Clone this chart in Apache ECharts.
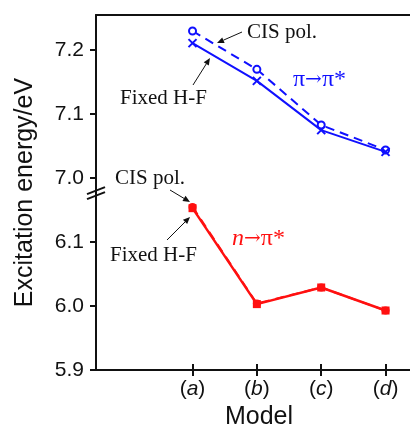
<!DOCTYPE html>
<html>
<head>
<meta charset="utf-8">
<script src="https://cdn.jsdelivr.net/npm/echarts@6/dist/echarts.min.js"></script>
<style>
  html, body { margin: 0; padding: 0; background: #fff; }
  #chart { width: 410px; height: 427px; }
</style>
</head>
<body>
<div id="chart"></div>
<script>
// Excitation energies (eV) for the four models
const models = ['a', 'b', 'c', 'd'];
const piCIS   = [7.230, 7.170, 7.083, 7.044];   // π→π*, CIS pol.
const piFixed = [7.211, 7.152, 7.075, 7.041];   // π→π*, Fixed H-F
const nCIS    = [6.155, 6.004, 6.029, 5.993];   // n→π*, CIS pol.
const nFixed  = [6.153, 6.003, 6.029, 5.993];   // n→π*, Fixed H-F
const yTicks  = [5.9, 6.0, 6.1, 7.0, 7.1, 7.2];

// Broken y axis: the 7.0+ band is drawn directly above the 6.1 band
const BREAK_SHIFT = 0.8;
const toAxis = v => (v > 6.5 ? v - BREAK_SHIFT : v);
const fromAxis = v => (v > 6.15 ? v + BREAK_SHIFT : v);

const BLUE = '#1010ff';
const RED = '#ff1010';
const INK = '#111';
const SANS = 'Liberation Sans, Arial, sans-serif';
const SERIF = 'Liberation Serif, Times New Roman, serif';
const ARROW_FONT = 'DejaVu Serif, serif';

const pts = vals => vals.map((v, i) => [i, toAxis(v)]);
const axisTickVals = yTicks.map(toAxis);

const X_MIN = -1.5, X_MAX = 3.38;

const chart = echarts.init(document.getElementById('chart'), null, { renderer: 'canvas' });

function arrow(x1, y1, x2, y2) {
  const dx = x2 - x1, dy = y2 - y1;
  const len = Math.sqrt(dx * dx + dy * dy);
  const ux = dx / len, uy = dy / len;
  const hl = 7, hw = 3;
  const bx = x2 - ux * hl, by = y2 - uy * hl;
  return [
    { type: 'line', shape: { x1, y1, x2: bx, y2: by }, style: { stroke: INK, lineWidth: 1 } },
    { type: 'polygon', shape: { points: [[x2, y2], [bx - uy * hw, by + ux * hw], [bx + uy * hw, by - ux * hw]] }, style: { fill: INK } }
  ];
}

function note(text, x, y) {
  return {
    type: 'text', x, y,
    style: { text, fill: INK, font: '21px ' + SERIF, textVerticalAlign: 'middle' }
  };
}

function transition(first, x, y, color) {
  return {
    type: 'text', x, y,
    style: {
      text: '{a|' + first + '}{b|→}{c|π*}', textVerticalAlign: 'middle',
      rich: {
        a: { fill: color, font: (first === 'n' ? 'italic ' : '') + '24px ' + SERIF },
        b: { fill: color, font: '20px ' + ARROW_FONT },
        c: { fill: color, font: '24px ' + SERIF }
      }
    }
  };
}

const xCommon = {
  type: 'value', min: X_MIN, max: X_MAX,
  splitLine: { show: false }
};

chart.setOption({
  animation: false,
  backgroundColor: '#fff',
  grid: { left: 96, right: 0, top: 15, bottom: 57, outerBoundsMode: 'none', containLabel: false },
  xAxis: [
    Object.assign({}, xCommon, {
      position: 'bottom',
      name: 'Model', nameLocation: 'middle', nameGap: 34,
      nameTextStyle: { fontFamily: SANS, fontSize: 25, color: INK, padding: [0, 0, 0, 12] },
      axisLine: { onZero: false, lineStyle: { color: INK, width: 2 } },
      axisTick: { show: true, length: 6, inside: false, customValues: [0, 1, 2, 3], lineStyle: { color: INK, width: 2 } },
      axisLabel: {
        customValues: [0, 1, 2, 3], margin: 9,
        formatter: v => '(' + '{i|' + models[Math.round(v)] + '})',
        fontFamily: SANS, fontSize: 21, color: INK,
        rich: { i: { fontFamily: SANS, fontSize: 21, fontStyle: 'italic', color: INK } }
      }
    }),
    Object.assign({}, xCommon, {
      position: 'bottom',
      axisLine: { show: false, onZero: false },
      axisTick: { show: true, length: 6, inside: true, customValues: [0, 1, 2, 3], lineStyle: { color: INK, width: 2 } },
      axisLabel: { show: false }
    }),
    Object.assign({}, xCommon, {
      position: 'top',
      axisLine: { onZero: false, lineStyle: { color: INK, width: 2 } },
      axisTick: { show: false },
      axisLabel: { show: false }
    })
  ],
  yAxis: {
    type: 'value', min: 5.9, max: 6.455,
    name: 'Excitation energy/eV', nameLocation: 'middle', nameGap: 58,
    nameTextStyle: { fontFamily: SANS, fontSize: 25, color: INK },
    splitLine: { show: false },
    axisLine: { show: true, onZero: false, lineStyle: { color: INK, width: 2 } },
    axisTick: { show: true, length: 6, customValues: axisTickVals, lineStyle: { color: INK, width: 2 } },
    axisLabel: {
      customValues: axisTickVals, margin: 12,
      formatter: v => fromAxis(v).toFixed(1),
      fontFamily: SANS, fontSize: 21, color: INK
    }
  },
  series: [
    {
      name: 'π→π* CIS pol.', type: 'line', data: pts(piCIS),
      lineStyle: { color: BLUE, width: 2, type: [9, 6] },
      symbol: 'emptyCircle', symbolSize: 7,
      itemStyle: { color: BLUE, borderColor: BLUE, borderWidth: 2 }, z: 3
    },
    {
      name: 'π→π* Fixed H-F', type: 'line', data: pts(piFixed),
      lineStyle: { color: BLUE, width: 2 },
      symbol: 'path://M0,0L10,10M10,0L0,10', symbolSize: 8,
      itemStyle: { color: 'none', borderColor: BLUE, borderWidth: 2 }, z: 4
    },
    {
      name: 'n→π* CIS pol.', type: 'line', data: pts(nCIS),
      lineStyle: { color: RED, width: 2, type: [9, 6] },
      symbol: 'circle', symbolSize: 8,
      itemStyle: { color: RED }, z: 4
    },
    {
      name: 'n→π* Fixed H-F', type: 'line', data: pts(nFixed),
      lineStyle: { color: RED, width: 2.5 },
      symbol: 'rect', symbolSize: 8,
      itemStyle: { color: RED }, z: 3
    }
  ]
});

// Axis break marks, text notes and pointer arrows
const yBreak = chart.convertToPixel({ yAxisIndex: 0 }, 6.178);
const xAxisPx = chart.convertToPixel({ xAxisIndex: 0 }, X_MIN);

const graphics = [
  {
    type: 'group', x: xAxisPx, y: yBreak, z: 10,
    children: [
      { type: 'polygon', shape: { points: [[-8, 2], [8, -4], [8, 0], [-8, 6]] }, style: { fill: '#fff' } },
      { type: 'line', shape: { x1: -9, y1: 2, x2: 9, y2: -5 }, style: { stroke: INK, lineWidth: 2 } },
      { type: 'line', shape: { x1: -9, y1: 7, x2: 9, y2: 0 }, style: { stroke: INK, lineWidth: 2 } }
    ]
  },
  note('CIS pol.', 247, 32),
  note('Fixed H-F', 120, 98),
  transition('π', 293, 80, BLUE),
  note('CIS pol.', 115, 178),
  note('Fixed H-F', 110, 255),
  transition('n', 232, 239, RED)
].concat(
  arrow(242, 32, 217, 43),
  arrow(193, 85, 210, 58),
  arrow(170, 190, 190, 202),
  arrow(167, 240, 190, 217)
);

chart.setOption({ graphic: graphics });
</script>
</body>
</html>
